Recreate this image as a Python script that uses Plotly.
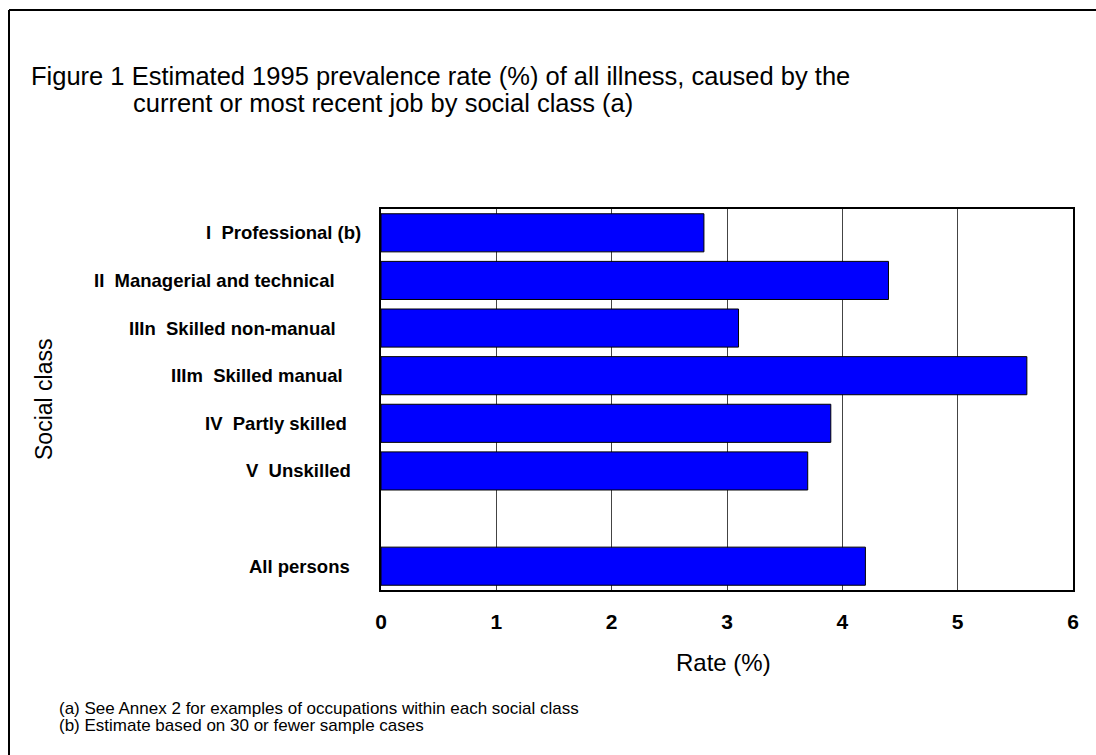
import plotly.graph_objects as go

# Social classes (top to bottom); the empty slot separates "All persons"
classes = [
    "I  Professional (b)",
    "II  Managerial and technical",
    "IIIn  Skilled non-manual",
    "IIIm  Skilled manual",
    "IV  Partly skilled",
    "V  Unskilled",
    " ",
    "All persons",
]
rates = [2.8, 4.4, 3.1, 5.6, 3.9, 3.7, None, 4.2]

# right-edge indent of each class label, in pixels left of the axis
label_indent = [20, 46, 45, 38, 34, 30, 0, 31]

x_ticks = [0, 1, 2, 3, 4, 5, 6]

W, H = 1096, 755
L, R, T, B = 381, 23, 209, 165
PW, PH = W - L - R, H - T - B

FONT = "Arial, Liberation Sans, sans-serif"


def px(xp):
    return (xp - L) / PW


def py(yp):
    return (H - B - yp) / PH


fig = go.Figure(
    go.Bar(
        x=rates,
        y=classes,
        orientation="h",
        marker=dict(color="#0000FF", line=dict(color="#000000", width=1)),
        hoverinfo="x+y",
    )
)

annotations = []
for name, val, ind in zip(classes, rates, label_indent):
    if val is None:
        continue
    annotations.append(dict(
        x=0, xref="paper", y=name, yref="y",
        text="<b>%s</b>" % name.replace("  ", "&nbsp;&nbsp;"),
        xanchor="right", yanchor="middle", showarrow=False,
        xshift=-ind + 2,
        font=dict(family=FONT, size=18.5, color="#000000"),
    ))

annotations += [
    dict(x=px(29), y=py(76), xref="paper", yref="paper",
         text="Figure 1 Estimated 1995 prevalence rate (%) of all illness, caused by the",
         xanchor="left", yanchor="middle", showarrow=False,
         font=dict(family=FONT, size=25.5, color="#000000")),
    dict(x=px(131), y=py(103), xref="paper", yref="paper",
         text="current or most recent job by social class (a)",
         xanchor="left", yanchor="middle", showarrow=False,
         font=dict(family=FONT, size=25.5, color="#000000")),
    dict(x=px(44), y=py(400), xref="paper", yref="paper",
         text="Social class", textangle=-90,
         xanchor="center", yanchor="middle", showarrow=False,
         font=dict(family=FONT, size=23, color="#000000")),
    dict(x=px(723), y=py(662), xref="paper", yref="paper",
         text="Rate (%)",
         xanchor="center", yanchor="middle", showarrow=False,
         font=dict(family=FONT, size=24, color="#000000")),
    dict(x=px(57), y=py(708), xref="paper", yref="paper",
         text="(a) See Annex 2 for examples of occupations within each social class",
         xanchor="left", yanchor="middle", showarrow=False,
         font=dict(family=FONT, size=17, color="#000000")),
    dict(x=px(57), y=py(725), xref="paper", yref="paper",
         text="(b) Estimate based on 30 or fewer sample cases",
         xanchor="left", yanchor="middle", showarrow=False,
         font=dict(family=FONT, size=17, color="#000000")),
]

# outer frame, open at the right and bottom edges of the page
shapes = [
    dict(type="line", xref="paper", yref="paper",
         x0=px(9), x1=px(9), y0=py(10), y1=py(H + 10),
         line=dict(color="#000000", width=2)),
    dict(type="line", xref="paper", yref="paper",
         x0=px(9), x1=px(W + 10), y0=py(10), y1=py(10),
         line=dict(color="#000000", width=2)),
]

fig.update_layout(
    width=W, height=H,
    margin=dict(l=L, r=R, t=T, b=B),
    paper_bgcolor="#FFFFFF", plot_bgcolor="#FFFFFF",
    showlegend=False,
    bargap=0.2,
    annotations=annotations,
    shapes=shapes,
    xaxis=dict(
        range=[0, 6], tickvals=x_ticks, ticktext=["<b>%d</b>" % t for t in x_ticks],
        showgrid=True, gridcolor="#444444", gridwidth=1,
        zeroline=False, showline=True, linecolor="#000000", linewidth=2, mirror=True,
        ticks="", ticklabelstandoff=12,
        tickfont=dict(family=FONT, size=21, color="#000000"),
        fixedrange=True,
    ),
    yaxis=dict(
        categoryorder="array", categoryarray=classes, autorange="reversed",
        showticklabels=False, showgrid=False, zeroline=False,
        showline=True, linecolor="#000000", linewidth=2, mirror=True,
        ticks="", fixedrange=True,
    ),
)

fig.write_html("out.html")
